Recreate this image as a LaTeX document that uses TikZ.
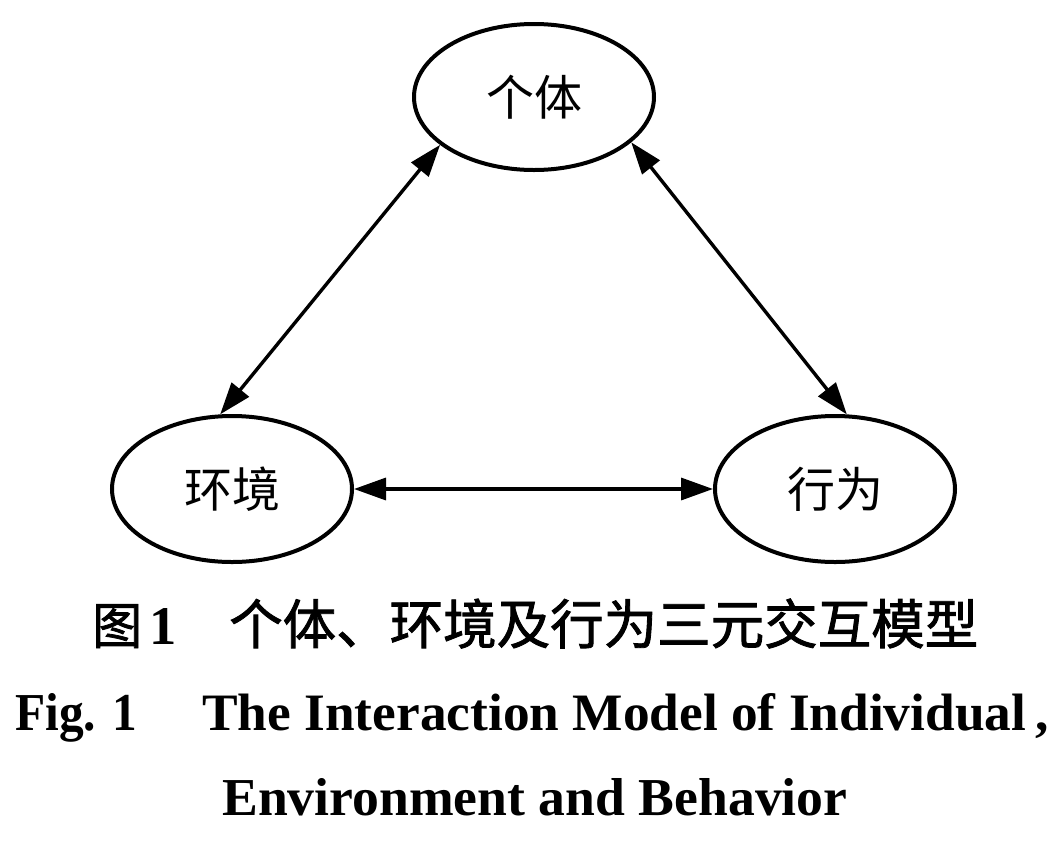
\documentclass[tikz,border=0pt]{standalone}
\usepackage{fontspec}
\setmainfont{Liberation Serif}
\newfontfamily\cjk{Noto Sans CJK SC}
\newfontfamily\cjkmid[FakeBold=1.6]{Noto Sans CJK SC}
\usetikzlibrary{shapes.geometric,arrows.meta}
\tikzset{
  oval/.style={draw, ellipse, line width=4pt, minimum width=240pt, minimum height=146pt, inner sep=0pt,
    font=\cjk\fontsize{48}{48}\selectfont},
  link/.style={line width=3.4pt, {Triangle[length=32pt,width=22pt]}-{Triangle[length=32pt,width=22pt]}},
  captxt/.style={inner sep=0pt, anchor=base west},
}
\begin{document}
\begin{tikzpicture}[x=1pt,y=-1pt]
\useasboundingbox (0,0) rectangle (1063,844);
\node[oval] (ind) at (534,97) {个体};
\node[oval] (env) at (232,489) {环境};
\node[oval] (beh) at (835,489) {行为};
\draw[link] (env.99) -- (ind.207.3);
\draw[link] (ind.335.5) -- (beh.81);
\draw[link] (env.east) -- (beh.west);
% captions
\node[captxt] (cnfig) at (92,644) {\resizebox{50pt}{!}{\cjkmid 图}\hspace{7pt}\resizebox{!}{36pt}{\bfseries 1}};
\node[captxt] (cntitle) at (229,644) {\resizebox{749pt}{!}{\cjkmid 个体、环境及行为三元交互模型}};
\node[captxt] (enfig) at (15,730) {\resizebox{122pt}{37pt}{\bfseries Fig. 1}};
\node[captxt] (entitle) at (202,730) {\resizebox{846pt}{37pt}{\bfseries The Interaction Model of Individual\,,}};
\node[captxt] (entitle2) at (222,815) {\resizebox{625pt}{37pt}{\bfseries Environment and Behavior}};
\end{tikzpicture}
\end{document}
